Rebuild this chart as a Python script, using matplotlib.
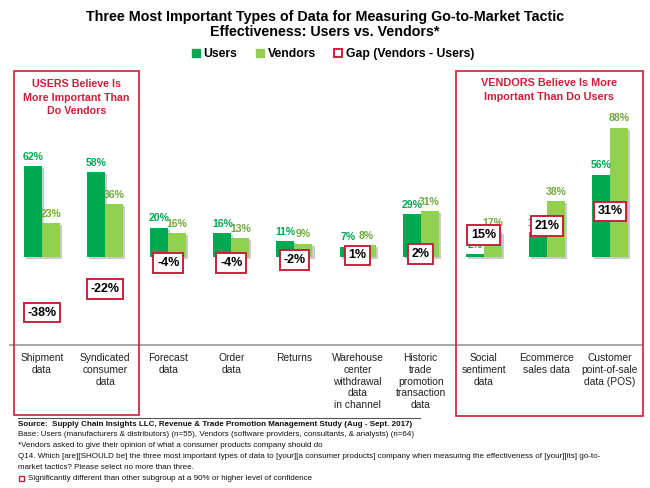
import matplotlib
matplotlib.use('Agg')
import matplotlib.pyplot as plt
import matplotlib.patheffects as pe
from matplotlib.patches import Patch, Rectangle
from matplotlib.lines import Line2D
import numpy as np

plt.rcParams['font.family'] = ['Liberation Sans', 'DejaVu Sans']

categories = ['Shipment\ndata', 'Syndicated\nconsumer\ndata', 'Forecast\ndata', 'Order\ndata',
              'Returns', 'Warehouse\ncenter\nwithdrawal\ndata\nin channel',
              'Historic\ntrade\npromotion\ntransaction\ndata', 'Social\nsentiment\ndata',
              'Ecommerce\nsales data', 'Customer\npoint-of-sale\ndata (POS)']
users = [62, 58, 20, 16, 11, 7, 29, 2, 17, 56]
vendors = [23, 36, 16, 13, 9, 8, 31, 17, 38, 88]
gaps = [-38, -22, -4, -4, -2, 1, 2, 15, 21, 31]

W, H = 650, 488
USER_C = '#00a851'
VEND_C = '#92d050'
VEND_LBL = '#72a838'
RED = '#c8203a'

fig = plt.figure(figsize=(6.5, 4.88), dpi=100)
ax = fig.add_axes([10.5 / W, (H - 345) / H, 631 / W, 235 / H])

x = np.arange(len(categories))
bw = 0.285
shadow = [pe.SimplePatchShadow(offset=(1.5, -1.5), shadow_rgbFace='#999999', alpha=0.5), pe.Normal()]
ax.bar(x - bw / 2, users, bw, color=USER_C, path_effects=shadow, zorder=2)
ax.bar(x + bw / 2, vendors, bw, color=VEND_C, path_effects=shadow, zorder=2)

for xi, v in zip(x, users):
    ax.annotate(f'{v}%', (xi - bw / 2, v), xytext=(0, 3), textcoords='offset points',
                ha='center', va='bottom', fontsize=7.6, fontweight='bold', color=USER_C, zorder=3)
for xi, v in zip(x, vendors):
    ax.annotate(f'{v}%', (xi + bw / 2, v), xytext=(0, 3), textcoords='offset points',
                ha='center', va='bottom', fontsize=7.6, fontweight='bold', color=VEND_LBL, zorder=3)

# gap boxes sit at the gap value on the same scale
for xi, g in zip(x, gaps):
    ax.text(xi, g, f'{g}%', ha='center', va='center', fontsize=9, fontweight='bold', color='black',
            zorder=5, bbox=dict(boxstyle='square,pad=0.3', fc='white', ec=RED, lw=1.4))

ax.set_xlim(-0.5, len(categories) - 0.5)
ax.set_ylim(-60, 100)
ax.set_xticks(x)
ax.set_xticklabels(categories, fontsize=7.4, linespacing=1.2, color='#222222')
ax.tick_params(axis='x', length=0, pad=6)
ax.set_yticks([])
for s in ['top', 'left', 'right']:
    ax.spines[s].set_visible(False)
ax.spines['bottom'].set_color('#a0a0a0')
ax.spines['bottom'].set_linewidth(1.3)
ax.patch.set_alpha(0)

# highlight boxes
def fig_rect(x0, y0, x1, y1):
    fig.patches.append(Rectangle((x0 / W, 1 - y1 / H), (x1 - x0) / W, (y1 - y0) / H,
                                 transform=fig.transFigure, fill=False, ec=RED, lw=1.2, zorder=0))

fig_rect(14, 71, 139, 415)
fig_rect(456, 71, 643, 416)
fig.text(76.5 / W, 1 - 97.5 / H, 'USERS Believe Is\nMore Important Than\nDo Vendors', ha='center', va='center',
         fontsize=7.7, fontweight='bold', color=RED, linespacing=1.4)
fig.text(549 / W, 1 - 90 / H, 'VENDORS Believe Is More\nImportant Than Do Users', ha='center', va='center',
         fontsize=7.8, fontweight='bold', color=RED, linespacing=1.4)

# title and legend
fig.text(0.5, 1 - 24.5 / H, 'Three Most Important Types of Data for Measuring Go-to-Market Tactic\nEffectiveness: Users vs. Vendors*',
         ha='center', va='center', fontsize=10.3, fontweight='bold', linespacing=1.12)
handles = [Patch(fc=USER_C, ec=USER_C), Patch(fc=VEND_C, ec=VEND_C), Patch(fc='white', ec=RED, lw=1.4)]
fig.legend(handles, ['Users', 'Vendors', 'Gap (Vendors - Users)'], loc='center', bbox_to_anchor=(333 / W, 1 - 54 / H),
           ncol=3, frameon=False, prop={'weight': 'bold', 'size': 8.8}, handlelength=0.65, handleheight=0.65,
           handletextpad=0.3, columnspacing=1.5, borderpad=0)

# footnotes
fig.add_artist(Line2D([18 / W, 420 / W], [1 - 418 / H, 1 - 418 / H], color='#555555', lw=0.8))
notes = [
    ('Source:  Supply Chain Insights LLC, Revenue & Trade Promotion Management Study (Aug - Sept. 2017)', 'bold'),
    ('Base: Users (manufacturers & distributors) (n=55), Vendors (software providers, consultants, & analysts) (n=64)', 'normal'),
    ('*Vendors asked to give their opinion of what a consumer products company should do', 'normal'),
    ('Q14. Which [are][SHOULD be] the three most important types of data to [your][a consumer products] company when measuring the effectiveness of [your][its] go-to-', 'normal'),
    ('market tactics? Please select no more than three.', 'normal'),
]
for i, (t, w) in enumerate(notes):
    fig.text(18 / W, 1 - (424 + i * 10.8) / H, t, ha='left', va='center', fontsize=5.8, fontweight=w, color='#111111')
fig.text(28 / W, 1 - (424 + 5 * 10.8) / H, 'Significantly different than other subgroup at a 90% or higher level of confidence',
         ha='left', va='center', fontsize=5.8, color='#111111')
fig.patches.append(Rectangle((18.5 / W, 1 - 480.5 / H), 5 / W, 5 / H, transform=fig.transFigure,
                             fill=False, ec=RED, lw=1.0))

fig.savefig('out.png', dpi=100)
